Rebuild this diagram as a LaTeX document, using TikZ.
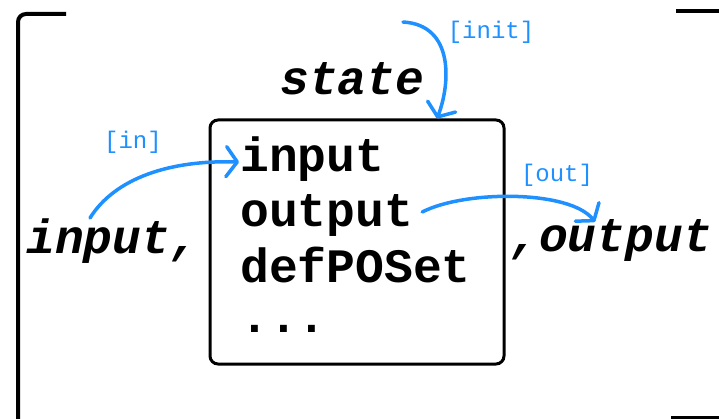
\documentclass[tikz,border=0pt]{standalone}
\usepackage{fontspec}
\newfontfamily\cour{Liberation Mono}
\usetikzlibrary{arrows.meta}
\definecolor{flowblue}{RGB}{30,144,255}
\tikzset{
  frameline/.style={line width=4pt, line cap=butt},
  bigtxt/.style={font=\cour\bfseries\fontsize{48}{48}\selectfont, inner sep=0pt, anchor=base west},
  slanttxt/.style={font=\cour\bfseries\itshape\fontsize{48}{48}\selectfont, inner sep=0pt, anchor=base west},
  tagtxt/.style={font=\cour\fontsize{24}{24}\selectfont, text=flowblue, inner sep=0pt},
  flow/.style={draw=flowblue, line width=3.5pt, line cap=round,
    -{Straight Barb[length=11pt,width=30pt,line cap=round,line join=round]}},
}
\begin{document}
\begin{tikzpicture}[x=1pt,y=-1pt]
\useasboundingbox (0,0) rectangle (719,419);
% outer bracket frame
\draw[frameline, rounded corners=8pt] (66,14) -- (18,14) -- (18,421);
\draw[frameline] (676,11) -- (719,11);
\draw[frameline] (671,418) -- (719,418);
% the component box
\node[draw, line width=3pt, rounded corners=8pt, minimum width=294pt, minimum height=244pt, inner sep=0pt] (box) at (357,242) {};
\node[bigtxt] (fin) at (240,172) {input};
\node[bigtxt] (fout) at (240,227) {output};
\node[bigtxt] (fdef) at (240,283) {defPOSet};
\node[bigtxt] (fdots) at (240,332) {...};
% surrounding labels
\node[slanttxt] (st) at (280,95) {state};
\node[slanttxt] (inl) at (26,254) {input,};
\node[slanttxt] (outl) at (510,252) {,output};
% blue tags
\node[tagtxt] (tinit) at (491,32) {[init]};
\node[tagtxt] (tin) at (133,142) {[in]};
\node[tagtxt] (tout) at (557,175) {[out]};
% flows
\coordinate (sinit) at (403,22);
\coordinate (sin) at (90,218);
\coordinate (eout) at (595,222);
\draw[flow] (sinit) .. controls (455,25) and (450,85) .. (box.north -| 437,0);
\draw[flow] (sin) .. controls (115,178) and (170,160) .. ([xshift=-1pt]fin.west |- 0,162);
\draw[flow] ([xshift=9pt]fout.east |- 0,212) .. controls (465,190) and (570,190) .. (eout);
\end{tikzpicture}
\end{document}
